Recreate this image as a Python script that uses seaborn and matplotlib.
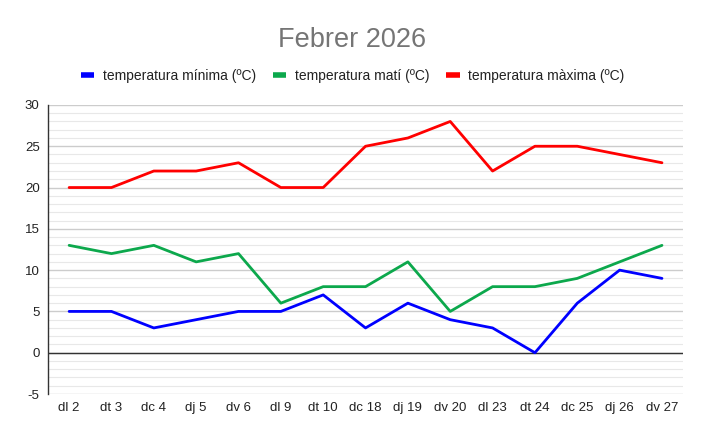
import matplotlib
matplotlib.use("Agg")
import matplotlib.pyplot as plt
import seaborn as sns
import pandas as pd
from matplotlib.lines import Line2D
from matplotlib.ticker import MultipleLocator

days = ["dl 2", "dt 3", "dc 4", "dj 5", "dv 6", "dl 9", "dt 10", "dc 18",
        "dj 19", "dv 20", "dl 23", "dt 24", "dc 25", "dj 26", "dv 27"]
t_min = [5, 5, 3, 4, 5, 5, 7, 3, 6, 4, 3, 0, 6, 10, 9]
t_mati = [13, 12, 13, 11, 12, 6, 8, 8, 11, 5, 8, 8, 9, 11, 13]
t_max = [20, 20, 22, 22, 23, 20, 20, 25, 26, 28, 22, 25, 25, 24, 23]
series_names = ["temperatura mínima (ºC)", "temperatura matí (ºC)", "temperatura màxima (ºC)"]
colors = ["#0000ff", "#0ca84c", "#ff0000"]
title = "Febrer 2026"

rows = []
for name, vals in zip(series_names, [t_min, t_mati, t_max]):
    for i, v in enumerate(vals):
        rows.append({"idx": i, "value": v, "serie": name})
df = pd.DataFrame(rows)

sns.set_theme(style="white")
plt.rcParams['font.family'] = ['Liberation Sans', 'DejaVu Sans']
plt.rcParams['axes.unicode_minus'] = False

fig = plt.figure(figsize=(7.05, 4.36), dpi=100)
ax = fig.add_axes([0.068, 0.0963, 0.901, 0.663])

sns.lineplot(data=df, x="idx", y="value", hue="serie", palette=colors,
             hue_order=series_names, linewidth=2, ax=ax, legend=False)

ax.set_xlim(-0.5, len(days) - 0.5)
ax.set_ylim(-5, 30)
ax.yaxis.set_major_locator(MultipleLocator(5))
ax.yaxis.set_minor_locator(MultipleLocator(1))
ax.set_xticks(range(len(days)))
ax.set_xticklabels(days)
ax.grid(which="major", axis="y", color="#cccccc", linewidth=1)
ax.grid(which="minor", axis="y", color="#e8e8e8", linewidth=0.8)
ax.set_axisbelow(True)
ax.axhline(0, color="#333333", linewidth=1, zorder=1.5)
for s in ["top", "right", "bottom"]:
    ax.spines[s].set_visible(False)
ax.spines["left"].set_color("#333333")
ax.spines["left"].set_linewidth(1)
ax.tick_params(axis="both", which="both", length=0, labelsize=9.5, colors="#222222", pad=6)
ax.set_xlabel("")
ax.set_ylabel("")

fig.text(0.5, 0.908, title, ha="center", va="center", fontsize=19.5, color="#757575")

handles = [Line2D([0], [0], color=c, linewidth=4, solid_capstyle="butt") for c in colors]
fig.legend(handles, series_names, loc="center", bbox_to_anchor=(0.5, 0.826), ncol=3,
           frameon=False, fontsize=10, handlelength=1.0, handletextpad=0.6,
           columnspacing=1.2, labelcolor="#222222")

fig.savefig("out.png", dpi=100)
